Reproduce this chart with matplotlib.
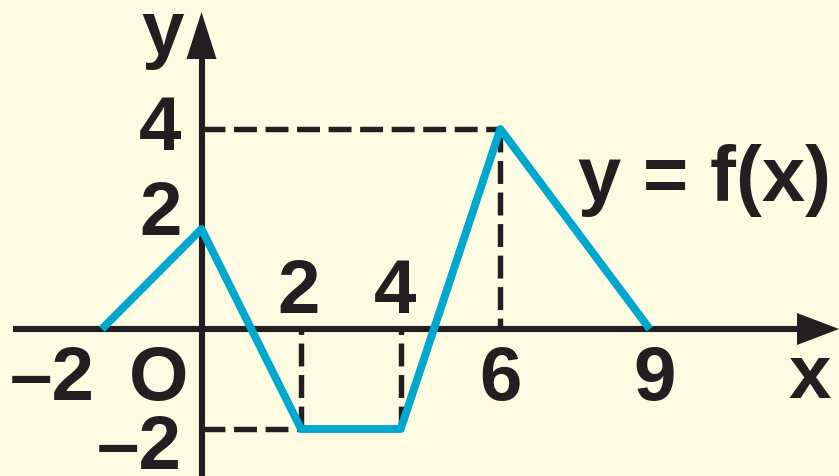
import matplotlib
matplotlib.use("Agg")
from matplotlib import pyplot as plt

# piecewise-linear function y = f(x)
xs = [-2, 0, 2, 4, 6, 9]
ys = [0, 2, -2, -2, 4, 0]

# dashed guides: (x0, y0, x1, y1)
guides = [
    (0, 4, 6, 4),
    (6, 4, 6, 0),
    (0, -2, 2, -2),
    (2, -2, 2, 0),
    (4, -2, 4, 0),
]

x_ticks = [-2, 2, 4, 6, 9]
x_tick_labels = ["\u20132", "2", "4", "6", "9"]
y_ticks = [4, 2, -2]
y_tick_labels = ["4", "2", "\u20132"]

bg = "#fdfbe2"
ink = "#231f20"
cyan = "#00a8cf"

W, H = 839, 477
X0, Y0 = 201.5, 330      # pixel position of the origin
SX, SY = 49.8, 50.0      # pixels per unit

plt.rcParams["lines.scale_dashes"] = False
plt.rcParams["font.family"] = ["Liberation Sans", "DejaVu Sans"]
plt.rcParams["font.weight"] = "bold"

fig = plt.figure(figsize=(W / 100, H / 100), dpi=100, facecolor=bg)
ax = fig.add_axes([0, 0, 1, 1])
ax.set_facecolor(bg)
ax.set_xlim(-X0 / SX, (W - X0) / SX)
ax.set_ylim((Y0 - H) / SY, Y0 / SY)
ax.axis("off")

# axes with arrowheads
x_left, x_tip = (13 - X0) / SX, (W - X0) / SX
y_bottom, y_tip = (Y0 - H - 5) / SY, (Y0 - 13) / SY
ax.plot([x_left, x_tip - 0.5], [0, 0], color=ink, lw=4.4, solid_capstyle="butt", zorder=2)
ax.plot([0, 0], [y_bottom, y_tip - 0.5], color=ink, lw=4.4, solid_capstyle="butt", zorder=2)
hl, hw = 42 / SX, 16 / SY
ax.fill([x_tip, x_tip - hl, x_tip - hl], [0, hw, -hw], color=ink, lw=0, zorder=2)
hl, hw = 47 / SY, 15 / SX
ax.fill([0, hw, -hw], [y_tip, y_tip - hl, y_tip - hl], color=ink, lw=0, zorder=2)

for x0, y0, x1, y1 in guides:
    ax.plot([x0, x1], [y0, y1], color=ink, lw=3.9,
            linestyle=(0, (16.5, 6.2)), dash_capstyle="butt", zorder=1)

ax.plot(xs, ys, color=cyan, lw=5.7, solid_joinstyle="round",
        solid_capstyle="butt", zorder=3)

fs = 55
# x tick labels: offsets in pixels from the tick position
x_off = {-2: (-50, -70), 2: (-2.5, 17), 4: (-6, 17), 6: (0, -70), 9: (5, -70)}
for v, lab in zip(x_ticks, x_tick_labels):
    dx, dy = x_off[v]
    ax.annotate(lab, (v, 0), xytext=(dx, dy), textcoords="offset pixels",
                ha="center", va="baseline", fontsize=fs, color=ink)

y_off = {4: -20, 2: -5, -2: -39}
for v, lab in zip(y_ticks, y_tick_labels):
    ax.annotate(lab, (0, v), xytext=(-20, y_off[v]), textcoords="offset pixels",
                ha="right", va="baseline", fontsize=fs, color=ink)

ax.annotate("O", (0, 0), xytext=(-43, -70), textcoords="offset pixels",
            ha="center", va="baseline", fontsize=fs, color=ink)
ax.annotate("x", (0, 0), xytext=(809.5 - X0, -(398 - Y0)), textcoords="offset pixels",
            ha="center", va="baseline", fontsize=fs, color=ink)
ax.annotate("y", (0, 0), xytext=(162.5 - X0, Y0 - 54), textcoords="offset pixels",
            ha="center", va="baseline", fontsize=fs, color=ink)
ax.annotate("y = f(x)", (0, 0), xytext=(705 - X0, Y0 - 201), textcoords="offset pixels",
            ha="center", va="baseline", fontsize=56, color=ink)

fig.savefig("out.png", dpi=100, facecolor=bg)
